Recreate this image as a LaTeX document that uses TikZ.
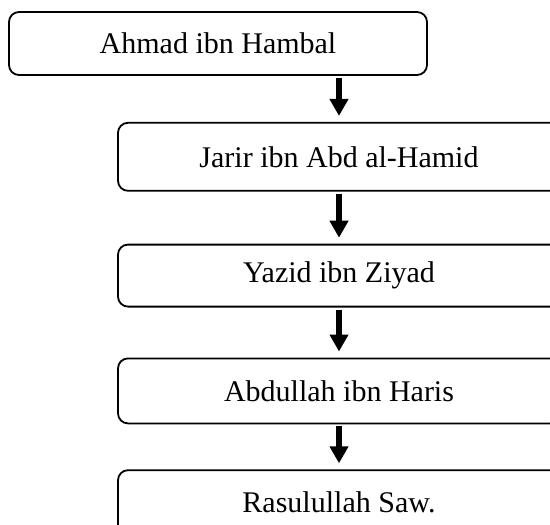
\documentclass[tikz,border=0pt]{standalone}
\usepackage{fontspec}
\setmainfont{Liberation Serif}
\usetikzlibrary{arrows.meta,positioning}
\tikzset{
  namebox/.style={rectangle,rounded corners=5pt,draw=black,line width=0.9pt,
    minimum width=221pt,font=\fontsize{15}{18}\selectfont,align=center,
    inner sep=0pt},
  downarr/.style={-{Triangle[width=9pt,length=8.5pt]},line width=3pt,
    shorten <=1pt,shorten >=3pt},
}
\begin{document}
\begin{tikzpicture}

  \clip (0,0) rectangle (275pt,-262pt);

  %% chain of narrators
  \node[namebox,minimum width=209pt,minimum height=31.5pt] (hambal)
        at (109pt,-21.75pt) {Ahmad ibn Hambal};
  \node[namebox,minimum height=34pt,below right=23pt and 54.5pt of hambal.south west,
        anchor=north west] (jarir) {Jarir ibn Abd al-Hamid};
  \node[namebox,minimum height=31pt,below=26pt of jarir] (yazid) {Yazid ibn Ziyad};
  \node[namebox,minimum height=32.5pt,below=25pt of yazid] (abdullah) {Abdullah ibn Haris};
  \node[namebox,minimum height=32.5pt,below=22.5pt of abdullah] (rasul) {Rasulullah Saw.};

  %% arrows
  \foreach \a/\b in {hambal/jarir,jarir/yazid,yazid/abdullah,abdullah/rasul}{
    \draw[downarr] (\a.south -| \b.north) -- (\b.north);
  }

\end{tikzpicture}
\end{document}
